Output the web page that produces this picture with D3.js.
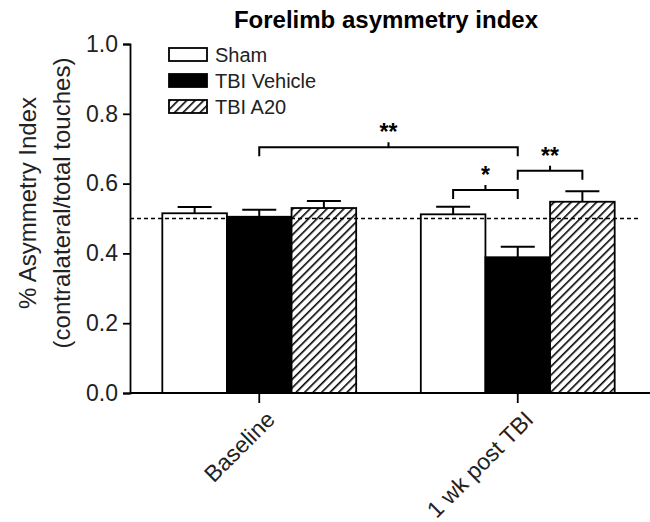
<!DOCTYPE html>
<html lang="en">
<head>
<meta charset="utf-8">
<title>Forelimb asymmetry index</title>
<script src="https://cdn.jsdelivr.net/npm/d3@7"></script>
<style>
  body { margin: 0; background: #fff; }
  svg { font-family: "Liberation Sans", Arial, sans-serif; }
  .axis path, .axis line { stroke: #000; stroke-width: 1.8px; }
  .axis text { font-size: 23px; fill: #222; }
</style>
</head>
<body>
<script>
var groups = ["Baseline", "1 wk post TBI"];
var series = ["Sham", "TBI Vehicle", "TBI A20"];
var means = [[0.515, 0.512], [0.505, 0.389], [0.530, 0.548]];   // by series, then group
var sems  = [[0.018, 0.022], [0.020, 0.030], [0.020, 0.030]];
var yTicks = [0.0, 0.2, 0.4, 0.6, 0.8, 1.0];
// significance brackets: [group, series] pairs, bracket height, label
var brackets = [
  { from: [0, 1], to: [1, 1], y: 0.704, label: "**" },
  { from: [1, 0], to: [1, 1], y: 0.582, label: "*" },
  { from: [1, 1], to: [1, 2], y: 0.637, label: "**" }
];
var refLine = 0.5;

var w = 650, h = 522;
var svg = d3.select("body").append("svg").attr("width", w).attr("height", h);

var defs = svg.append("defs");
var pat = defs.append("pattern")
  .attr("id", "hatch")
  .attr("patternUnits", "userSpaceOnUse")
  .attr("width", 6).attr("height", 6)
  .attr("patternTransform", "rotate(45)");
pat.append("rect").attr("width", 6).attr("height", 6).attr("fill", "#fff");
pat.append("line").attr("x1", 0).attr("y1", 0).attr("x2", 0).attr("y2", 6)
  .attr("stroke", "#000").attr("stroke-width", 3.2);

var fills = ["#fff", "#000", "url(#hatch)"];

var x0 = d3.scaleBand().domain(groups).range([130, 647])
  .paddingInner(0.25).paddingOuter(0.125);
var x1 = d3.scaleBand().domain(series).range([0, x0.bandwidth()]);
var y = d3.scaleLinear().domain([0, 1]).range([393, 44]);

function cx(g, s) { return x0(groups[g]) + x1(series[s]) + x1.bandwidth() / 2; }

// bars
var barData = [];
series.forEach(function(s, si) {
  groups.forEach(function(g, gi) {
    barData.push({ g: gi, s: si, v: means[si][gi], e: sems[si][gi] });
  });
});

svg.selectAll("rect.bar")
  .data(barData)
  .enter()
  .append("rect")
  .attr("class", "bar")
  .attr("x", function(d) { return x0(groups[d.g]) + x1(series[d.s]); })
  .attr("y", function(d) { return y(d.v); })
  .attr("width", x1.bandwidth())
  .attr("height", function(d) { return y(0) - y(d.v); })
  .attr("fill", function(d) { return fills[d.s]; })
  .attr("stroke", "#000")
  .attr("stroke-width", 1.8);

// error bars (upper only)
var capW = 34;
svg.selectAll("line.err")
  .data(barData)
  .enter()
  .append("line")
  .attr("x1", function(d) { return cx(d.g, d.s); })
  .attr("x2", function(d) { return cx(d.g, d.s); })
  .attr("y1", function(d) { return y(d.v); })
  .attr("y2", function(d) { return y(d.v + d.e); })
  .attr("stroke", "#000").attr("stroke-width", 2);
svg.selectAll("line.cap")
  .data(barData)
  .enter()
  .append("line")
  .attr("x1", function(d) { return cx(d.g, d.s) - capW / 2; })
  .attr("x2", function(d) { return cx(d.g, d.s) + capW / 2; })
  .attr("y1", function(d) { return y(d.v + d.e); })
  .attr("y2", function(d) { return y(d.v + d.e); })
  .attr("stroke", "#000").attr("stroke-width", 2);

// dashed reference line
svg.append("line")
  .attr("x1", 130).attr("x2", 640)
  .attr("y1", y(refLine)).attr("y2", y(refLine))
  .attr("stroke", "#000").attr("stroke-width", 1.3)
  .attr("stroke-dasharray", "4,3");

// axes
var yAxis = d3.axisLeft(y).tickValues(yTicks).tickFormat(d3.format(".1f"))
  .tickSize(7).tickSizeOuter(7).tickPadding(5);
svg.append("g").attr("class", "axis")
  .attr("transform", "translate(130,0)")
  .call(yAxis);

var xAxis = d3.axisBottom(x0).tickSize(10).tickSizeOuter(0);
var gx = svg.append("g").attr("class", "axis")
  .attr("transform", "translate(0,393)")
  .call(xAxis);
gx.select(".domain").attr("d", "M130,0H650");
gx.selectAll(".tick text")
  .attr("x", 0).attr("y", 0).attr("dy", 0)
  .attr("text-anchor", "end")
  .attr("transform", "translate(17,28) rotate(-45)");

// brackets
var bg = svg.append("g");
brackets.forEach(function(b) {
  var xa = cx(b.from[0], b.from[1]), xb = cx(b.to[0], b.to[1]);
  var yy = y(b.y), leg = 9;
  bg.append("path")
    .attr("d", "M" + xa + "," + (yy + leg) + "V" + yy + "H" + xb + "V" + (yy + leg)
      + "M" + ((xa + xb) / 2) + "," + yy + "v-5")
    .attr("fill", "none").attr("stroke", "#000").attr("stroke-width", 2);
  bg.append("text")
    .attr("x", (xa + xb) / 2).attr("y", yy - 7)
    .attr("text-anchor", "middle")
    .attr("font-size", "23px").attr("font-weight", "bold")
    .text(b.label);
});

// title
svg.append("text")
  .attr("x", 386).attr("y", 28)
  .attr("text-anchor", "middle")
  .attr("font-size", "24px").attr("font-weight", "bold")
  .text("Forelimb asymmetry index");

// y axis title
var yt = svg.append("text")
  .attr("transform", "translate(36,203) rotate(-90)")
  .attr("text-anchor", "middle")
  .attr("font-size", "24px").attr("fill", "#222");
yt.append("tspan").attr("x", 0).attr("dy", 0).text("% Asymmetry Index");
yt.append("tspan").attr("x", 0).attr("dy", "1.42em").text("(contralateral/total touches)");

// legend
var lg = svg.append("g").attr("transform", "translate(169,48)");
series.forEach(function(s, i) {
  var row = lg.append("g").attr("transform", "translate(0," + (i * 26) + ")");
  row.append("rect").attr("width", 38).attr("height", 13)
    .attr("fill", fills[i]).attr("stroke", "#000").attr("stroke-width", 1.8);
  row.append("text").attr("x", 46).attr("y", 14)
    .attr("font-size", "20px").attr("fill", "#222").text(s);
});
</script>
</body>
</html>
